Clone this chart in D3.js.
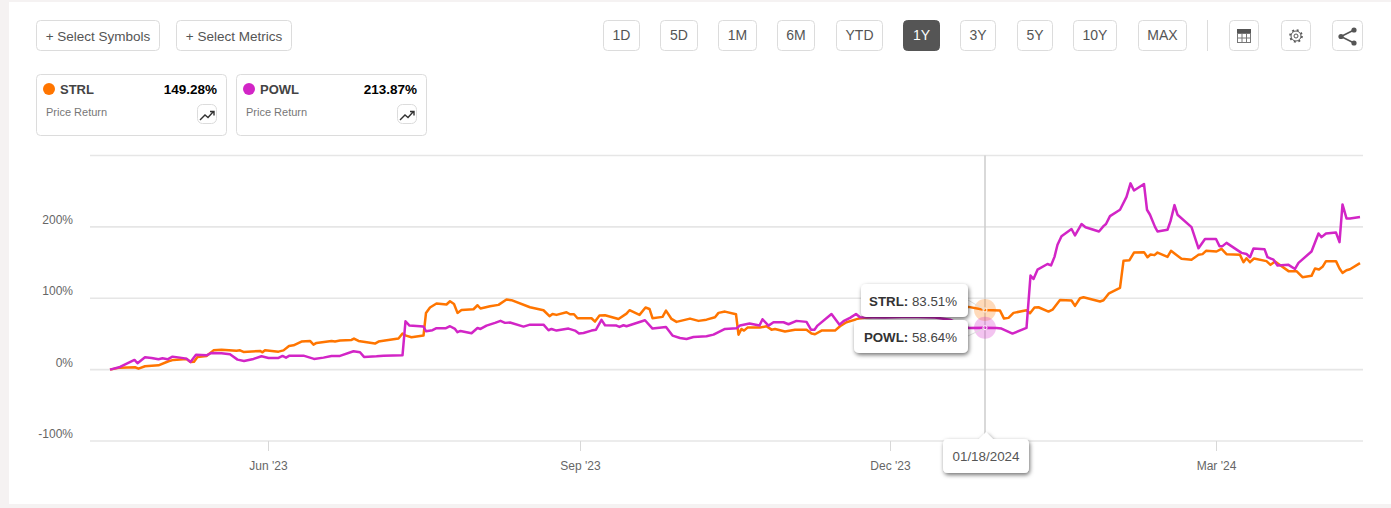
<!DOCTYPE html>
<html>
<head>
<meta charset="utf-8">
<script src="https://cdn.jsdelivr.net/npm/d3@7"></script>
<style>
  html, body { margin: 0; padding: 0; background: #f5f2f2; overflow: hidden; }
  text { font-family: "Liberation Sans", Arial, sans-serif; }
</style>
</head>
<body>
<svg id="chart" width="1391" height="508"></svg>
<script>
// x is the trading session counted from the start of the range
const strlSessions = [0,2,5,5.7,7,9.7,11.7,12.7,15.3,16.1,16.8,17.5,19.3,20.7,22.3,25.3,26,26.7,30,30.5,31,33.7,34.7,35.8,36.7,38.3,40,40.7,41.3,44.3,45,46,48.3,48.8,49.7,53,53.7,55,57.7,58.5,59.2,60.3,62.7,63.2,64,65.3,67.3,68,68.8,69.5,70.3,72.7,73.5,74.1,76,77.7,79.3,80.3,84,86.7,87.9,88.5,89.3,91.3,92,92.8,93.5,96.3,97,97.9,99,101.7,103.3,103.9,105.9,107.1,107.9,108.5,110.5,111.2,112.3,113.3,116,117.7,119.3,121,121.7,123,125.2,125.7,126.3,126.8,127.5,130,131.3,132.3,133,135,137,139.3,140.3,141,142.3,145,146,147.3,149.7,155,160,165,170,171.7,175,178,178.8,179.7,180.7,183.3,184,184.9,185.7,187.7,188.5,190,192.3,193,194,194.7,198,198.7,199.8,202,202.7,203.9,204.8,206.8,207.5,208.1,208.9,209.5,211.5,212.2,214.3,216.3,217.7,218.5,219.2,221.3,222.3,223.3,226,226.7,227.3,228,228.8,231.3,232.1,233,235.7,237.3,238.5,240.3,241,241.8,242.5,243.2,245.2,245.9,246.5,247.3,248,250];
const strlValues = [0,2.8,3.3,1.4,4.7,6,11.7,13.6,15,10.8,11,17.8,19.2,27,28,26.6,27,24.8,26.2,24.3,27,25.2,27,33.2,34,39.3,40.2,35,37.4,40.2,39.3,40.7,41.6,43.5,40.2,36.5,39.3,40.7,43.5,50.5,47.7,45.3,47.7,79.5,87,92.6,91.2,95.8,92,79.5,83.7,84.6,90.2,85.6,88.8,90.7,98.2,97.3,87.4,83.2,74.8,78,76.7,80.4,77.6,77.6,72,72,67.3,75.7,76.2,71,78.5,83.2,76.7,87,85,72,73.9,82.7,71,66.9,71.5,68.3,70,73.4,79.5,81.3,77.6,49,57,54.7,58.9,58.9,60.8,56,57,53.3,56,56,50.5,49.6,54.7,54.7,60.8,66.4,71.5,76,78,80,84,87.9,83.51,82.7,71.5,72.5,79.5,83.2,79,87,87.4,81.3,84,97.7,96.8,89.3,100,101.4,95.4,97.2,107,114.5,152.4,153.3,164,164.6,157.5,161.3,160.4,164,158,166.4,155.2,153.8,160.8,161.8,166.4,165.5,169.2,161.8,160.8,150.5,156.1,150.5,155.7,152,146.8,151.5,138,138,129.5,131.4,141.7,140.3,144,152,152,141.7,135.6,139.3,140.7,149.28];

const powlSessions = [0,2,4.9,5.5,7,8.3,9.7,10.5,11.5,12.5,14,15.3,16.1,17.2,19.3,20.3,22.3,24,25.5,26.8,28.7,30.3,31.7,33.7,34.5,35.2,35.9,38.7,40.8,42.7,44.3,46,48.7,50,50.8,53.3,54.7,58.5,59.1,59.9,62.7,63.2,64.5,65.3,67.2,68,69,69.5,70.1,72.3,73.5,74.1,75.3,77,78.1,79,80,82.7,84,86.7,87.7,88.3,89.3,91.7,93,93.8,94.7,96.3,97.2,98.3,99,101.3,101.9,102.7,103.3,107,108.5,111.2,112.5,114,115.3,116.7,119.3,120.7,123,125.3,126,127.9,129.9,130.5,131.7,132.7,134.7,135.7,137.3,139.3,140.2,140.9,141.5,144.3,145.9,146.7,148,149.2,150,155,160,165,168,171.7,175,177.3,178.3,180.5,183.3,184.1,184.7,185.5,187.5,188.2,188.9,189.5,190.3,192.3,193,194.3,195.1,197.8,198.7,199.2,200,202,203.3,204.1,204.8,206.8,207.4,208,209,209.5,211.5,212.1,212.9,213.5,216.3,217.7,219,221.2,221.9,222.5,223.3,226.3,227.3,228,228.7,230.9,231.5,232.7,233.5,235.7,237,237.7,240.3,241.7,242.3,243.2,245.2,245.9,246.5,247.3,248,250];
const powlValues = [0,3.7,13.6,8.9,17.3,16.4,14.5,15.9,14.5,18.2,16.8,15.4,10.8,21,20.1,23.4,22.9,21.5,14,12.2,15,18.7,16.4,16.4,19.2,16.8,19.6,19.6,15,16.8,19.2,19.2,25.7,24.3,17.8,18.7,19.6,20.1,67.8,61.7,60.3,53.8,55.2,58,58,60.8,57,52.4,54.2,51,58.4,57,61.7,65.5,68.3,65.5,66,60.3,63,63,55.2,57,54.7,57.5,54.7,50.5,51.4,54.7,56,69.7,62.2,61.7,59.8,62.2,60.8,69.2,57.5,59.8,47.7,44.4,43,45.8,46.8,49,57,58,61.7,64.5,61.7,70.6,61.7,66.4,66.4,63.6,68.3,66.9,56,56,61.7,78,63,67.8,72.5,78,73.4,73,74,73,70,58.4,58.64,58.4,57.5,50.5,58.4,131.8,127,140,148,146,158,175,187,197,188,204,199.5,193.5,201,204,215,224,242,261,251,260,224,217,200,193.5,196,208,230.5,217,199.6,170,183,183,173,173,177.6,163.6,162,157.5,169.7,168.8,157.5,154,146,146.8,141,149.6,165.5,190.7,185.6,190.7,192,178.6,231.4,211.8,211.8,213.87];

const yTicks = [-100, 0, 100, 200, 300];
const xTickSessions = [31.6, 94, 156, 221.2];
const xTickLabels = ["Jun '23", "Sep '23", "Dec '23", "Mar '24"];

const rangeLabels = ["1D", "5D", "1M", "6M", "YTD", "1Y", "3Y", "5Y", "10Y", "MAX"];
const rangeLefts = [603, 660, 718, 777, 836, 903, 960, 1017, 1073, 1138];
const rangeRights = [640, 698, 757, 815, 883, 940, 996, 1053, 1117, 1187];

const hoverSession = 175;
const hoverDate = "01/18/2024";
const hoverStrl = 83.51;
const hoverPowl = 58.64;

const ORANGE = "#ff7500";
const PURPLE = "#d225c6";
const BORDER = "#dcdcdc";

const svg = d3.select("#chart");

const defs = svg.append("defs");
const shadow = defs.append("filter").attr("id", "shadow")
  .attr("x", "-20%").attr("y", "-30%").attr("width", "140%").attr("height", "170%");
shadow.append("feDropShadow")
  .attr("dx", 1).attr("dy", 2).attr("stdDeviation", 2.2)
  .attr("flood-color", "#000").attr("flood-opacity", 0.55);

// white panel
svg.append("rect").attr("x", 9).attr("y", 2).attr("width", 1382).attr("height", 502).attr("fill", "#fff");

function button(x0, x1, y0, y1, active) {
  return svg.append("rect")
    .attr("x", x0 + 0.5).attr("y", y0 + 0.5)
    .attr("width", x1 - x0 - 1).attr("height", y1 - y0 - 1)
    .attr("rx", 4)
    .attr("fill", active ? "#555" : "#fff")
    .attr("stroke", active ? "#555" : BORDER);
}

function label(x, y, str, size, color, weight, anchor) {
  return svg.append("text")
    .attr("x", x).attr("y", y)
    .attr("font-size", size)
    .attr("fill", color)
    .attr("font-weight", weight || "normal")
    .attr("text-anchor", anchor || "start")
    .text(str);
}

// toolbar
button(36, 160, 20, 51);
label(98, 41, "+ Select Symbols", 13.5, "#555", "normal", "middle");
button(176, 292, 20, 51);
label(234, 41, "+ Select Metrics", 13.5, "#555", "normal", "middle");

rangeLabels.forEach((d, i) => {
  const active = d === "1Y";
  button(rangeLefts[i], rangeRights[i], 20, 51, active);
  label((rangeLefts[i] + rangeRights[i]) / 2, 40, d, 14, active ? "#fff" : "#555", "normal", "middle");
});

svg.append("line").attr("x1", 1207.5).attr("x2", 1207.5).attr("y1", 20).attr("y2", 51).attr("stroke", BORDER);

// table button
button(1229, 1259, 20, 51);
svg.append("rect").attr("x", 1237).attr("y", 29).attr("width", 14).attr("height", 4).attr("fill", "#555");
svg.append("rect").attr("x", 1237.5).attr("y", 33.5).attr("width", 13).attr("height", 9).attr("fill", "none").attr("stroke", "#777");
svg.append("path").attr("d", "M1242 33V43M1246.5 33V43M1237 38H1251").attr("stroke", "#777").attr("fill", "none");

// settings button
button(1281, 1311, 20, 51);
const gear = svg.append("g").attr("transform", "translate(1296,36)");
gear.append("circle").attr("r", 2).attr("fill", "none").attr("stroke", "#555");
gear.append("circle").attr("r", 5).attr("fill", "none").attr("stroke", "#555");
gear.append("circle").attr("r", 6).attr("fill", "none").attr("stroke", "#555").attr("stroke-width", 1.6).attr("stroke-dasharray", "2 2.71");

// share button
button(1332, 1363, 20, 51);
svg.append("path").attr("d", "M1354 30L1341 36.5L1354 43").attr("fill", "none").attr("stroke", "#555").attr("stroke-width", 1.6);
[[1354, 30], [1341, 36.5], [1354, 43]].forEach(p => {
  svg.append("circle").attr("cx", p[0]).attr("cy", p[1]).attr("r", 2.6).attr("fill", "#555");
});

// legend cards
function card(x0, name, color, pct) {
  button(x0, x0 + 191, 74, 136);
  svg.append("circle").attr("cx", x0 + 13).attr("cy", 89).attr("r", 6).attr("fill", color);
  label(x0 + 24, 94, name, 13, "#444", "bold");
  label(x0 + 181, 94, pct, 13.5, "#000", "bold", "end");
  label(x0 + 10, 116, "Price Return", 11, "#777");
  button(x0 + 161, x0 + 181, 104, 124).attr("rx", 5);
  svg.append("path")
    .attr("d", `M${x0 + 164} 120L${x0 + 169} 115L${x0 + 172} 117.5L${x0 + 177} 112M${x0 + 174} 111.5H${x0 + 178}V115.5`)
    .attr("fill", "none").attr("stroke", "#333").attr("stroke-width", 1.4);
}
card(36, "STRL", ORANGE, "149.28%");
card(236, "POWL", PURPLE, "213.87%");

// scales
const x = d3.scaleLinear().domain([0, 250]).range([110, 1360]);
const y = d3.scaleLinear().domain([-100, 300]).range([441, 155.5]);

const yAxis = d3.axisLeft(y).tickValues(yTicks).tickSize(0).tickFormat(d => d === 300 ? "" : d + "%");
const yG = svg.append("g").attr("transform", "translate(73,0)").call(yAxis);
yG.select(".domain").remove();
yG.selectAll("text")
  .attr("x", 0).attr("dy", "-0.28em")
  .attr("font-family", null).attr("font-size", 12).attr("fill", "#666");

svg.append("g").selectAll("line").data(yTicks).join("line")
  .attr("x1", 90).attr("x2", 1363)
  .attr("y1", d => y(d)).attr("y2", d => y(d))
  .attr("stroke", "#e6e6e6").attr("stroke-width", 1.6);

const xAxis = d3.axisBottom(x).tickValues(xTickSessions).tickSize(10).tickPadding(10)
  .tickFormat((d, i) => xTickLabels[i]);
const xG = svg.append("g").attr("transform", `translate(0,${y(-100)})`).call(xAxis);
xG.select(".domain").remove();
xG.selectAll("line").attr("stroke", "#d8d8d8");
xG.selectAll("text").attr("font-family", null).attr("font-size", 12).attr("fill", "#666");

// series
const line = d3.line().x(d => x(d[0])).y(d => y(d[1]));

svg.append("path")
  .datum(d3.zip(strlSessions, strlValues))
  .attr("d", line).attr("fill", "none").attr("stroke", ORANGE).attr("stroke-width", 2.5).attr("stroke-linejoin", "round");
svg.append("path")
  .datum(d3.zip(powlSessions, powlValues))
  .attr("d", line).attr("fill", "none").attr("stroke", PURPLE).attr("stroke-width", 2.5).attr("stroke-linejoin", "round");

// hover state
const hx = x(hoverSession);
svg.append("line").attr("x1", hx).attr("x2", hx).attr("y1", y(300)).attr("y2", 434)
  .attr("stroke", "#ccc").attr("stroke-width", 1.5);

[[hoverStrl, ORANGE], [hoverPowl, PURPLE]].forEach(h => {
  svg.append("circle").attr("cx", hx).attr("cy", y(h[0])).attr("r", 11).attr("fill", h[1]).attr("opacity", 0.27);
  svg.append("circle").attr("cx", hx).attr("cy", y(h[0])).attr("r", 2).attr("fill", h[1]).attr("stroke", "#fff").attr("stroke-width", 1);
});

function hoverBox(x0, y0, name, val) {
  svg.append("line").attr("x1", 968).attr("y1", y0 + 16).attr("x2", hx).attr("y2", y(val)).attr("stroke", "#ddd");
  svg.append("rect").attr("x", x0).attr("y", y0).attr("width", 968 - x0).attr("height", 33)
    .attr("rx", 5).attr("fill", "#fff").attr("filter", "url(#shadow)");
  const t = svg.append("text").attr("x", 957).attr("y", y0 + 21.5).attr("text-anchor", "end")
    .attr("font-size", 13.3).attr("fill", "#333");
  t.append("tspan").attr("font-weight", "bold").text(name + ": ");
  t.append("tspan").attr("fill", "#444").text(val.toFixed(2) + "%");
}
hoverBox(861, 284, "STRL", hoverStrl);
hoverBox(854, 320, "POWL", hoverPowl);

svg.append("path")
  .attr("d", "M948 439H979L986 432L993 439H1024Q1029 439 1029 444V468Q1029 473 1024 473H948Q943 473 943 468V444Q943 439 948 439Z")
  .attr("fill", "#fff").attr("filter", "url(#shadow)");
label(986, 461, hoverDate, 13.4, "#555", "normal", "middle");
</script>
</body>
</html>
